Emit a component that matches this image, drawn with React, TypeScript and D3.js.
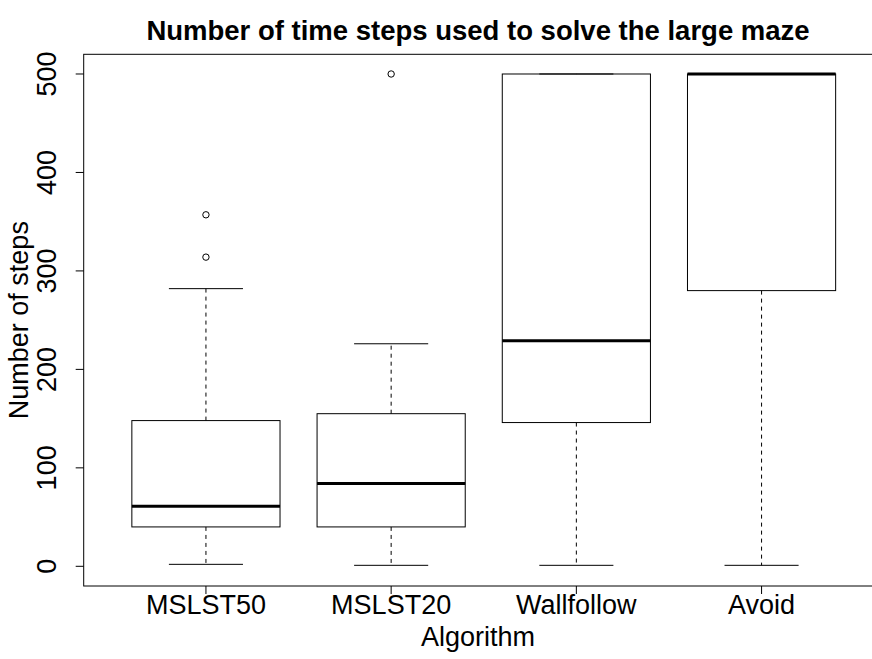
import React, { useEffect, useRef } from "react";
import * as d3 from "d3";

// values
const categories = ["MSLST50", "MSLST20", "Wallfollow", "Avoid"];
const lowerWhisker = [2, 1, 1, 1];
const q1 = [40, 40, 146, 280];
const median = [61, 84, 229, 500];
const q3 = [148, 155, 500, 500];
const upperWhisker = [282, 226, 500, 500];
const outliers = [[314, 357], [500], [], []];
const yTicks = [0, 100, 200, 300, 400, 500];

const chartTitle = "Number of time steps used to solve the large maze";
const xTitle = "Algorithm";
const yTitle = "Number of steps";

const W = 872;
const H = 659;
const FONT = "'Liberation Sans', Arial, Helvetica, sans-serif";

export default function App() {
  const ref = useRef<SVGSVGElement | null>(null);

  useEffect(() => {
    const svg = d3.select(ref.current);
    svg.selectAll("*").remove();

    // plot region (R style, 4% padding on both axes)
    const left = 83.7, right = 883.8, top = 54.3, bottom = 586;

    const x = d3.scaleLinear().domain([0.34, 4.66]).range([left, right]);
    const y = d3.scaleLinear().domain([-20, 520]).range([bottom, top]);
    const boxW = (x(1.4) - x(0.6));
    const stapleW = boxW / 2;

    const g = svg.append("g");

    // frame
    g.append("rect")
      .attr("x", left).attr("y", top)
      .attr("width", right - left).attr("height", bottom - top)
      .attr("fill", "none").attr("stroke", "#000").attr("stroke-width", 1);

    categories.forEach((c, i) => {
      const cx = x(i + 1);
      const bx = g.append("g");

      // whiskers
      bx.append("line")
        .attr("x1", cx).attr("x2", cx)
        .attr("y1", y(q3[i])).attr("y2", y(upperWhisker[i]))
        .attr("stroke", "#000").attr("stroke-dasharray", "4 4");
      bx.append("line")
        .attr("x1", cx).attr("x2", cx)
        .attr("y1", y(q1[i])).attr("y2", y(lowerWhisker[i]))
        .attr("stroke", "#000").attr("stroke-dasharray", "4 4");

      // staples
      [upperWhisker[i], lowerWhisker[i]].forEach((v) => {
        bx.append("line")
          .attr("x1", cx - stapleW / 2).attr("x2", cx + stapleW / 2)
          .attr("y1", y(v)).attr("y2", y(v))
          .attr("stroke", "#000");
      });

      // box
      bx.append("rect")
        .attr("x", cx - boxW / 2).attr("y", y(q3[i]))
        .attr("width", boxW).attr("height", y(q1[i]) - y(q3[i]))
        .attr("fill", "none").attr("stroke", "#000");

      // median
      bx.append("line")
        .attr("x1", cx - boxW / 2).attr("x2", cx + boxW / 2)
        .attr("y1", y(median[i])).attr("y2", y(median[i]))
        .attr("stroke", "#000").attr("stroke-width", 3);

      // outliers
      bx.selectAll("circle")
        .data(outliers[i])
        .enter()
        .append("circle")
        .attr("cx", cx).attr("cy", (d) => y(d))
        .attr("r", 3.2)
        .attr("fill", "none").attr("stroke", "#000");

      // x tick + label
      g.append("line")
        .attr("x1", cx).attr("x2", cx)
        .attr("y1", bottom).attr("y2", bottom + 8)
        .attr("stroke", "#000");
      g.append("text")
        .attr("x", cx).attr("y", 614)
        .attr("text-anchor", "middle")
        .attr("font-family", FONT).attr("font-size", 27)
        .text(c);
    });

    // y axis ticks + labels
    yTicks.forEach((t) => {
      g.append("line")
        .attr("x1", left - 8).attr("x2", left)
        .attr("y1", y(t)).attr("y2", y(t))
        .attr("stroke", "#000");
      g.append("text")
        .attr("transform", `translate(56,${y(t)}) rotate(-90)`)
        .attr("text-anchor", "middle")
        .attr("font-family", FONT).attr("font-size", 27)
        .text(t);
    });

    // titles
    svg.append("text")
      .attr("x", 478).attr("y", 40)
      .attr("text-anchor", "middle")
      .attr("font-family", FONT).attr("font-size", 27.5).attr("font-weight", "bold")
      .text(chartTitle);
    svg.append("text")
      .attr("x", 478).attr("y", 646)
      .attr("text-anchor", "middle")
      .attr("font-family", FONT).attr("font-size", 27)
      .text(xTitle);
    svg.append("text")
      .attr("transform", `translate(28,${(top + bottom) / 2}) rotate(-90)`)
      .attr("text-anchor", "middle")
      .attr("font-family", FONT).attr("font-size", 27)
      .text(yTitle);
  }, []);

  return (
    <svg
      ref={ref}
      width={W}
      height={H}
      style={{ position: "absolute", left: 0, top: 0, background: "#fff" }}
    />
  );
}
